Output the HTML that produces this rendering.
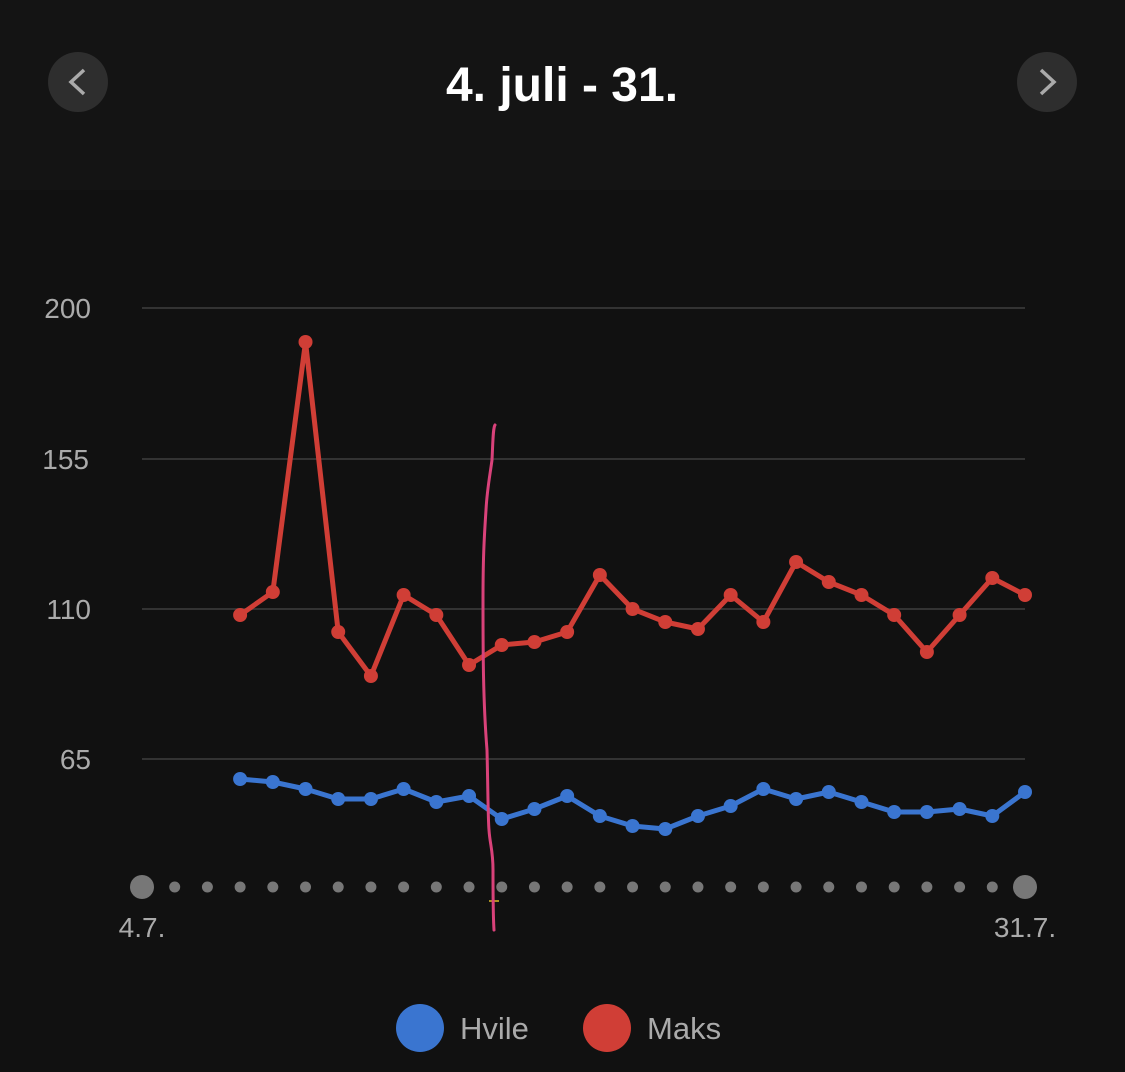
<!DOCTYPE html>
<html><head><meta charset="utf-8"><style>
html,body{margin:0;padding:0;background:#111;}
svg{display:block;font-family:"Liberation Sans",sans-serif;}
</style></head><body>
<svg width="1125" height="1072" viewBox="0 0 1125 1072">
<rect width="1125" height="1072" fill="#111"/>
<rect width="1125" height="190" fill="#141414"/>
<circle cx="78" cy="82" r="30" fill="#2e2e2e"/>
<polyline points="84,70 71,82 84,94" fill="none" stroke="#aaa" stroke-width="3.5"/>
<circle cx="1047" cy="82" r="30" fill="#2e2e2e"/>
<polyline points="1041,70 1054,82 1041,94" fill="none" stroke="#aaa" stroke-width="3.5"/>
<text x="562" y="101" text-anchor="middle" font-size="48" font-weight="bold" fill="#fff">4. juli - 31.</text>
<g stroke="#333" stroke-width="2">
<line x1="142" y1="308" x2="1025" y2="308"/><line x1="142" y1="459" x2="1025" y2="459"/>
<line x1="142" y1="609" x2="1025" y2="609"/><line x1="142" y1="759" x2="1025" y2="759"/>
</g>
<g fill="#aaa" font-size="28" text-anchor="end">
<text x="91" y="318">200</text><text x="89" y="469">155</text><text x="91" y="619">110</text><text x="91" y="769">65</text>
</g>
<g id="dots" fill="#777"></g>
<g fill="#aaa" font-size="28" text-anchor="middle">
<text x="142" y="937">4.7.</text><text x="1025" y="937">31.7.</text>
</g>
<g id="series"></g>
<line x1="489" y1="901" x2="499" y2="901" stroke="#a89020" stroke-width="2"/>
<path d="M495,425 C493,428 493,440 492,460 C490,475 487,490 486,510 C484,540 483,560 483,600 C483,650 483,700 487,750 C488,790 488,820 489,830 C490,845 493,850 493,870 C493,900 493,915 494,930" fill="none" stroke="#d9427a" stroke-width="3" stroke-linecap="round"/>
<circle cx="420" cy="1028" r="24" fill="#3a75d0"/>
<text x="460" y="1039" font-size="31" fill="#aaa">Hvile</text>
<circle cx="607" cy="1028" r="24" fill="#d03e36"/>
<text x="647" y="1039" font-size="31" fill="#aaa">Maks</text>
</svg>
<script>
var ns="http://www.w3.org/2000/svg";
var d=document.getElementById("dots");
for(var i=0;i<28;i++){var c=document.createElementNS(ns,"circle");var x=142+i*(883/27);c.setAttribute("cx",x);c.setAttribute("cy",887);c.setAttribute("r",(i==0||i==27)?12:5.5);d.appendChild(c);}
var red=[615,592,342,632,676,595,615,665,645,642,632,575,609,622,629,595,622,562,582,595,615,652,615,578,595];
var blue=[779,782,789,799,799,789,802,796,819,809,796,816,826,829,816,806,789,799,792,802,812,812,809,816,792];
var s=document.getElementById("series");
function draw(arr,col){var pts=[];for(var i=0;i<arr.length;i++){pts.push((142+(i+3)*(883/27))+","+arr[i]);}
var p=document.createElementNS(ns,"polyline");p.setAttribute("points",pts.join(" "));p.setAttribute("fill","none");p.setAttribute("stroke",col);p.setAttribute("stroke-width","5");p.setAttribute("stroke-linejoin","round");s.appendChild(p);
for(var i=0;i<arr.length;i++){var c=document.createElementNS(ns,"circle");c.setAttribute("cx",142+(i+3)*(883/27));c.setAttribute("cy",arr[i]);c.setAttribute("r",7);c.setAttribute("fill",col);s.appendChild(c);}}
draw(red,"#d03e36");draw(blue,"#3a75d0");
</script>
</body></html>
